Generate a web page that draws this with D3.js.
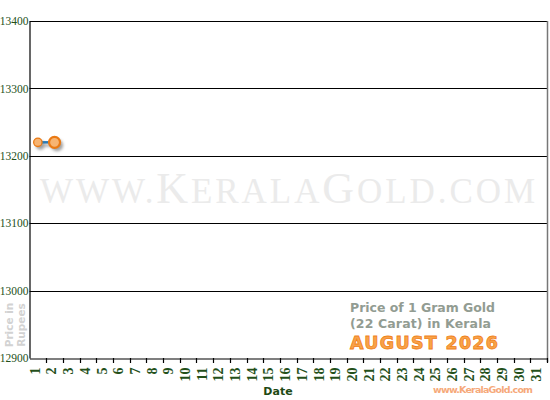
<!DOCTYPE html>
<html>
<head>
<meta charset="utf-8">
<script src="https://cdn.jsdelivr.net/npm/d3@7"></script>
<style>
  body { margin: 0; background: #fff; }
  svg { display: block; }
</style>
</head>
<body>
<div class="main"></div>
<script>
const w = 550;
const h = 400;

// data
const days = d3.range(1, 32);
const priceDays = [1, 2];
const prices = [13220, 13220];
const yTicks = [12900, 13000, 13100, 13200, 13300, 13400];

const margin = { top: 21, right: 3, bottom: 42, left: 29.5 };

const svg = d3.select('.main').append('svg').attr('width', w).attr('height', h);

const defs = svg.append('defs');
const blur = defs.append('filter').attr('id', 'shadow')
  .attr('x', '-50%').attr('y', '-50%').attr('width', '200%').attr('height', '200%');
blur.append('feGaussianBlur').attr('stdDeviation', 1.6);

const x = d3.scaleBand()
  .domain(days)
  .range([margin.left, w - margin.right]);

const y = d3.scaleLinear()
  .domain([12900, 13400])
  .range([h - margin.bottom, margin.top]);

// watermark
const wm = svg.append('text')
  .attr('x', 40)
  .attr('y', 203)
  .attr('fill', '#ebebeb')
  .attr('font-family', 'Liberation Serif, serif')
  .attr('textLength', 495)
  .attr('lengthAdjust', 'spacing');
[['WWW.', 35], ['K', 44], ['ERALA', 35], ['G', 44], ['OLD.COM', 35]].forEach(function (p) {
  wm.append('tspan').style('font-size', p[1] + 'px').text(p[0]);
});

// grid
svg.append('g')
  .selectAll('line')
  .data(yTicks.slice(1))
  .join('line')
  .attr('x1', margin.left)
  .attr('x2', w - margin.right)
  .attr('y1', d => Math.round(y(d)) + 0.5)
  .attr('y2', d => Math.round(y(d)) + 0.5)
  .attr('stroke', '#000')
  .attr('stroke-width', 1.2);

// right border
svg.append('line')
  .attr('x1', w - margin.right + 0.5).attr('x2', w - margin.right + 0.5)
  .attr('y1', margin.top).attr('y2', h - margin.bottom + 4)
  .attr('stroke', '#777').attr('stroke-width', 1.5);

// y axis
const yAxis = svg.append('g')
  .attr('transform', 'translate(' + margin.left + ',0)')
  .call(d3.axisLeft(y).tickValues(yTicks).tickSize(0).tickPadding(1).tickFormat(d3.format('d')));
yAxis.select('.domain').attr('stroke', '#000').attr('stroke-width', 1.2);
yAxis.selectAll('text')
  .style('fill', '#24501a')
  .style('font-family', 'Liberation Serif, serif')
  .style('font-size', '11.5px');

// x axis
const xAxis = svg.append('g')
  .attr('transform', 'translate(0,' + (h - margin.bottom + 0.5) + ')')
  .call(d3.axisBottom(x).tickSize(0).tickPadding(0));
xAxis.select('.domain').attr('stroke', '#000').attr('stroke-width', 1.2);
xAxis.selectAll('.tick line').remove();
xAxis.selectAll('text')
  .style('fill', '#24501a')
  .style('font-family', 'Liberation Serif, serif')
  .style('font-weight', 'bold')
  .style('font-size', '14px')
  .attr('text-anchor', 'end')
  .attr('dy', '0.35em')
  .attr('transform', 'translate(-3,9) rotate(-90)')
  .attr('x', 0)
  .attr('y', 0);

// x ticks on band edges
svg.append('g')
  .selectAll('line')
  .data(days)
  .join('line')
  .attr('x1', d => Math.round(x(d) + x.bandwidth()) + 0.5)
  .attr('x2', d => Math.round(x(d) + x.bandwidth()) + 0.5)
  .attr('y1', h - margin.bottom)
  .attr('y2', h - margin.bottom + 5)
  .attr('stroke', '#000')
  .attr('stroke-width', 1.2);

// axis titles
svg.append('text')
  .attr('x', 278)
  .attr('y', 395)
  .attr('text-anchor', 'middle')
  .attr('fill', '#1e4a14')
  .attr('font-family', 'DejaVu Sans, sans-serif')
  .attr('font-weight', 'bold')
  .attr('font-size', 11)
  .text('Date');

const yTitle = svg.append('text')
  .attr('transform', 'translate(13,325) rotate(-90)')
  .attr('text-anchor', 'middle')
  .attr('fill', '#d2d2d2')
  .attr('font-family', 'DejaVu Sans, sans-serif')
  .attr('font-weight', 'bold')
  .attr('font-size', 10.5);
yTitle.append('tspan').attr('x', 0).attr('dy', 0).text('Price in');
yTitle.append('tspan').attr('x', 0).attr('dy', 12).text('Rupees');

// caption
svg.append('text')
  .attr('x', 350).attr('y', 312)
  .attr('fill', '#929c92')
  .attr('font-family', 'DejaVu Sans, sans-serif')
  .attr('font-weight', 'bold')
  .attr('font-size', 12.5)
  .attr('textLength', 145)
  .text('Price of 1 Gram Gold');
svg.append('text')
  .attr('x', 350).attr('y', 328)
  .attr('fill', '#929c92')
  .attr('font-family', 'DejaVu Sans, sans-serif')
  .attr('font-weight', 'bold')
  .attr('font-size', 12.5)
  .attr('textLength', 141)
  .text('(22 Carat) in Kerala');
svg.append('text')
  .attr('x', 350).attr('y', 349)
  .attr('fill', '#f8a24a')
  .attr('stroke', '#f0821a')
  .attr('stroke-width', 0.8)
  .attr('font-family', 'DejaVu Sans, sans-serif')
  .attr('font-weight', 'bold')
  .attr('font-size', 17.5)
  .attr('textLength', 148)
  .text('AUGUST 2026');
svg.append('text')
  .attr('x', 433).attr('y', 393)
  .attr('fill', '#f6a97a')
  .attr('font-family', 'DejaVu Sans, sans-serif')
  .attr('font-weight', 'bold')
  .attr('font-size', 9.5)
  .attr('textLength', 100)
  .text('www.KeralaGold.com');

// series
const pts = priceDays.map((d, i) => ({ day: d, price: prices[i] }));
const cx = d => x(d.day) + x.bandwidth() / 2;

const line = d3.line().x(cx).y(d => y(d.price));

const shadow = svg.append('g').attr('transform', 'translate(2.5,3)').attr('filter', 'url(#shadow)').attr('opacity', 0.55);
shadow.append('path').datum(pts).attr('d', line).attr('fill', 'none').attr('stroke', '#555').attr('stroke-width', 2.5);
shadow.selectAll('circle').data(pts).join('circle')
  .attr('cx', cx).attr('cy', d => y(d.price))
  .attr('r', (d, i) => (i === pts.length - 1 ? 6 : 4.5))
  .attr('fill', '#555');

svg.append('path')
  .datum(pts)
  .attr('d', line)
  .attr('fill', 'none')
  .attr('stroke', '#2a7ab4')
  .attr('stroke-width', 2.5);

svg.selectAll('.pt')
  .data(pts)
  .join('circle')
  .attr('class', 'pt')
  .attr('cx', cx)
  .attr('cy', d => y(d.price))
  .attr('r', (d, i) => (i === pts.length - 1 ? 5.5 : 4.2))
  .attr('fill', '#f7b472')
  .attr('stroke', '#ea7a14')
  .attr('stroke-width', (d, i) => (i === pts.length - 1 ? 2.2 : 1.3));
</script>
</body>
</html>
